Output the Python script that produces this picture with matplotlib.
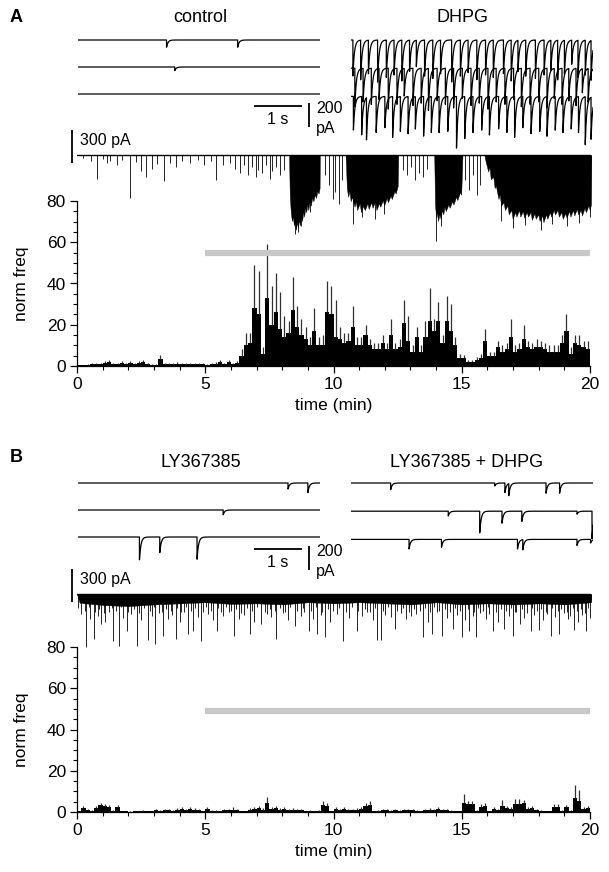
import matplotlib.pyplot as plt
from matplotlib.ticker import MultipleLocator
import numpy as np

W, H = 609, 872
plt.rcParams['font.family'] = ['Liberation Sans', 'DejaVu Sans']

# ---------------- histogram data (10 s bins, 0-20 min) ----------------
freq_a = [0.3, 0.3, 0.5, 0.8, 1.0, 0.8, 1.5, 2.0, 0.8, 0.8,
          1.5, 1.0, 1.5, 0.8, 1.5, 1.8, 0.8, 0.5, 0.5, 3.5,
          1.0, 0.8, 1.0, 1.2, 0.8, 1.0, 0.8, 0.8, 0.8, 1.0,
          0.5, 0.8, 1.2, 1.8, 1.0, 2.0, 1.0, 1.5, 5, 10,
          11, 28, 25, 6, 33, 20, 26, 18, 14, 16,
          27, 19, 15, 13, 10, 17, 10, 10, 26, 25,
          14, 13, 11, 12, 19, 10, 10, 15, 10, 8,
          8, 11, 8, 15, 8, 9, 21, 12, 7, 14,
          7, 14, 22, 17, 22, 11, 22, 17, 10, 4,
          4, 2, 2, 3, 4, 12, 5, 5, 9, 7,
          8, 14, 7, 8, 13, 9, 8, 9, 9, 8,
          7, 7, 7, 11, 17, 6, 11, 10, 9, 8]
err_a = [0.3, 0.3, 0.4, 0.5, 0.6, 0.5, 0.8, 1.0, 0.5, 0.5,
         0.8, 0.6, 0.8, 0.5, 0.8, 0.9, 0.5, 0.4, 0.4, 2.0,
         0.6, 0.5, 0.6, 0.6, 0.5, 0.6, 0.5, 0.5, 0.5, 0.6,
         0.4, 0.5, 0.6, 0.9, 0.6, 1.0, 0.6, 0.8, 3, 6,
         5, 21, 21, 3, 26, 19, 19, 18, 10, 6,
         16, 10, 8, 6, 4, 11, 4, 5, 15, 14,
         18, 6, 5, 4, 10, 4, 4, 5, 3, 3,
         3, 4, 3, 8, 3, 4, 11, 12, 3, 5,
         3, 8, 16, 6, 9, 4, 12, 13, 4, 2,
         1.5, 1, 1, 1.5, 2, 6, 2, 2, 3, 3,
         3, 9, 3, 3, 7, 3, 3, 4, 3, 3,
         3, 3, 3, 4, 8, 3, 4, 5, 3, 4]

freq_b = [0.3, 2.0, 1.0, 0.5, 2.0, 3.5, 3.0, 2.5, 0.5, 2.5,
          0.3, 0.3, 0.2, 0.3, 0.3, 0.5, 0.3, 0.3, 1.0, 0.5,
          1.0, 0.8, 0.5, 1.2, 1.5, 1.0, 1.5, 1.2, 1.0, 0.3,
          1.5, 0.5, 0.5, 0.3, 0.8, 1.0, 1.2, 1.0, 0.3, 0.3,
          1.2, 1.5, 1.8, 1.2, 4.5, 1.5, 1.8, 1.2, 1.5, 1.0,
          1.2, 1.0, 0.8, 0.3, 0.5, 0.3, 0.5, 3.5, 3.0, 0.3,
          1.5, 0.8, 1.5, 1.0, 1.0, 1.2, 1.5, 3.0, 3.5, 0.3,
          0.5, 1.0, 0.8, 0.5, 1.0, 0.5, 1.0, 0.8, 1.0, 0.5,
          0.3, 0.8, 1.2, 1.0, 1.5, 1.0, 0.8, 0.5, 0.3, 0.3,
          4.5, 4.0, 4.0, 0.5, 2.5, 3.0, 0.3, 1.5, 1.0, 3.0,
          2.0, 1.5, 4.0, 4.0, 4.5, 1.5, 2.0, 1.0, 0.5, 0.3,
          0.3, 2.5, 2.5, 0.5, 2.5, 0.5, 7.0, 5.5, 1.5, 2.0]
err_b = [0.3, 1.0, 0.6, 0.4, 1.0, 1.0, 1.0, 1.0, 0.4, 1.0,
         0.3, 0.3, 0.2, 0.3, 0.3, 0.4, 0.3, 0.3, 0.6, 0.4,
         0.6, 0.5, 0.4, 0.6, 0.8, 0.6, 0.8, 0.6, 0.6, 0.3,
         0.8, 0.4, 0.4, 0.3, 0.5, 0.6, 1.2, 0.6, 0.3, 0.3,
         0.6, 0.8, 1.0, 0.6, 3.0, 0.8, 1.0, 0.6, 0.8, 0.6,
         0.6, 0.6, 0.5, 0.3, 0.4, 0.3, 0.4, 2.0, 1.5, 0.3,
         0.8, 0.5, 0.8, 0.6, 0.6, 0.6, 1.0, 1.5, 2.0, 0.3,
         0.4, 0.6, 0.5, 0.4, 0.6, 0.4, 0.6, 0.5, 0.6, 0.4,
         0.3, 0.5, 0.6, 0.6, 0.8, 0.6, 0.5, 0.4, 0.3, 0.3,
         4.0, 1.5, 1.5, 0.4, 1.5, 1.5, 0.3, 0.8, 0.6, 3.0,
         1.0, 0.8, 2.5, 2.5, 1.5, 0.8, 1.0, 0.6, 0.4, 0.3,
         0.3, 1.5, 1.5, 0.4, 1.0, 0.4, 6.0, 5.0, 0.8, 1.0]

drug_bar_a = 55     # grey bar level, 5-20 min
drug_bar_b = 49

# ---------------- sweep events (time s, amplitude pA) ----------------
ctrl_t = [[1.83, 3.30], [2.00], []]
ctrl_a = [[60, 60], [30], []]

dhpg_t = [[0.04, 0.2, 0.36, 0.55, 0.73, 0.89, 1.05, 1.21, 1.35, 1.52, 1.69, 1.85, 2.08, 2.26, 2.42, 2.6,
           2.78, 2.94, 3.15, 3.31, 3.45, 3.61, 3.81, 3.99, 4.13, 4.27, 4.41, 4.56, 4.69, 4.84, 4.96],
          [0.08, 0.25, 0.42, 0.58, 0.77, 0.95, 1.1, 1.28, 1.45, 1.6, 1.78, 1.95, 2.12, 2.3, 2.48, 2.65,
           2.83, 3.0, 3.18, 3.36, 3.52, 3.7, 3.88, 4.05, 4.2, 4.36, 4.5, 4.65, 4.78, 4.9],
          [0.05, 0.22, 0.32, 0.52, 0.7, 0.86, 1.02, 1.18, 1.33, 1.5, 1.66, 1.82, 2.0, 2.18, 2.35, 2.52,
           2.7, 2.86, 3.05, 3.22, 3.38, 3.55, 3.72, 3.9, 4.05, 4.22, 4.38, 4.55, 4.7, 4.84, 4.96]]
dhpg_a = [[300, 330, 280, 350, 310, 290, 340, 260, 220, 300, 320, 280, 350, 300, 270, 330,
           290, 310, 280, 340, 260, 300, 320, 290, 250, 330, 280, 200, 310, 290, 330],
          [320, 280, 300, 260, 340, 300, 230, 310, 290, 350, 270, 300, 330, 250, 310, 290,
           340, 280, 300, 260, 320, 300, 280, 330, 250, 300, 270, 310, 200, 280],
          [280, 320, 350, 300, 260, 340, 290, 310, 270, 330, 300, 300, 290, 430, 350, 300,
           280, 320, 270, 300, 340, 260, 310, 290, 330, 280, 300, 270, 300, 400, 350]]

ly_t = [[4.34, 4.75], [3.00], [1.27, 1.69, 2.46]]
ly_a = [[50, 80], [40], [190, 130, 185]]

lyd_t = [[0.82, 2.97, 3.18, 3.26, 4.03, 4.31],
         [2.01, 2.66, 3.12, 3.53, 4.67, 4.98],
         [1.20, 1.87, 3.44, 3.55, 4.67, 4.95]]
lyd_a = [[55, 25, 80, 100, 85, 85],
         [40, 180, 100, 85, 25, 230],
         [80, 65, 80, 85, 50, 30]]

# ---------------- 20 min continuous traces (min, depth pA) ----------------
long_a_spk_t = [0.25, 0.55, 0.78, 1.0, 1.15, 1.3, 1.55, 1.75, 2.07, 2.3, 2.5, 2.7, 2.9, 3.1, 3.4,
                3.6, 3.85, 4.1, 4.4, 4.7, 4.95, 5.2, 5.4, 5.7, 5.95, 6.15, 6.35, 6.5, 6.65, 6.8,
                6.95, 7.05, 7.2, 7.35, 7.5, 7.6, 7.75, 7.9, 8.05,
                8.48, 8.6, 8.7, 9.05, 9.65, 9.8, 9.95, 10.05, 10.2, 10.3,
                10.75, 11.1, 11.6, 11.95, 12.7, 12.85, 13.0, 13.15, 13.3, 13.45, 13.6,
                13.95, 14.15, 15.1, 15.25, 15.4, 15.55, 15.7,
                16.5, 16.95, 17.45, 18.05, 18.5, 19.05, 19.55, 19.95]
long_a_spk_d = [30, 55, 215, 40, 70, 55, 90, 45, 390, 65, 145, 200, 125, 80, 235,
                70, 110, 55, 70, 45, 90, 55, 225, 90, 70, 125, 160, 90, 180, 110,
                200, 135, 160, 90, 215, 145, 110, 180, 135,
                720, 700, 650, 520, 180, 270, 400, 340, 450, 225,
                630, 560, 585, 540, 135, 180, 110, 225, 160, 200, 125,
                780, 650, 225, 315, 180, 360, 270,
                600, 660, 640, 680, 630, 650, 620, 560]
burst1_t = [8.25, 8.28, 8.32, 8.36, 8.40, 8.44, 8.48, 8.52, 8.56, 8.60, 8.64, 8.68, 8.72, 8.76, 8.80,
            8.84, 8.88, 8.92, 8.96, 9.00, 9.05, 9.10, 9.15, 9.20, 9.25, 9.30, 9.35, 9.40, 9.44, 9.45]
burst1_d = [0, 380, 520, 600, 560, 640, 600, 680, 610, 660, 590, 640, 560, 600, 520,
            560, 480, 520, 450, 500, 420, 460, 390, 420, 360, 390, 330, 350, 300, 0]
burst2_t = [10.45, 10.5, 10.55, 10.6, 10.65, 10.7, 10.8, 10.85, 10.9, 11.0, 11.05, 11.1, 11.2, 11.3,
            11.35, 11.45, 11.5, 11.6, 11.65, 11.75, 11.8, 11.9, 11.95, 12.05, 12.1, 12.2, 12.25,
            12.35, 12.4, 12.48, 12.5]
burst2_d = [0, 300, 380, 330, 420, 380, 470, 420, 500, 440, 520, 460, 500, 440,
            490, 430, 480, 420, 500, 440, 470, 410, 460, 390, 430, 370, 400,
            330, 350, 280, 0]
burst3_t = [13.9, 13.93, 13.97, 14.0, 14.05, 14.1, 14.15, 14.2, 14.25, 14.3, 14.35, 14.45, 14.5,
            14.6, 14.65, 14.75, 14.8, 14.9, 14.95, 15.0]
burst3_d = [0, 450, 560, 520, 600, 540, 580, 500, 540, 470, 510, 450, 480,
            420, 450, 380, 410, 340, 360, 0]
burst4_t = [15.85, 15.9, 16.0, 16.05, 16.1, 16.2, 16.25, 16.3, 16.4, 16.45, 16.5, 16.6, 16.65, 16.75,
            16.8, 16.9, 16.95, 17.05, 17.1, 17.2, 17.25, 17.35, 17.4, 17.5, 17.55, 17.65, 17.7,
            17.8, 17.85, 17.95, 18.0, 18.1, 18.15, 18.25, 18.3, 18.4, 18.45, 18.55, 18.6, 18.7,
            18.75, 18.85, 18.9, 19.0, 19.05, 19.15, 19.2, 19.3, 19.35, 19.45, 19.5, 19.6, 19.65,
            19.75, 19.8, 19.9, 19.95, 20.0, 20.02]
burst4_d = [0, 60, 150, 110, 220, 200, 300, 280, 400, 360, 460, 430, 500, 460,
            540, 500, 580, 520, 560, 500, 560, 510, 570, 520, 560, 520, 590,
            530, 580, 540, 600, 550, 610, 540, 580, 520, 560, 500, 540, 500,
            560, 520, 580, 530, 570, 510, 560, 500, 550, 490, 540, 500, 550,
            480, 520, 460, 500, 450, 0]

long_b_spk_t = [0.34, 0.65, 0.92, 1.41, 1.64, 1.94, 2.32, 2.75, 3.05, 3.35, 3.84, 4.3, 4.53, 4.83,
                5.44, 6.12, 6.73, 7.16, 7.75, 8.48, 9.01, 9.35, 9.65, 10.35, 10.88, 11.67, 11.82,
                12.36, 13.47, 13.8, 14.21, 14.64, 14.99, 15.25, 15.52, 16.19, 16.61, 16.95, 17.22,
                17.65, 17.98, 18.44, 18.77, 19.35, 19.81,
                0.15, 0.5, 0.8, 1.1, 1.25, 1.8, 2.1, 2.5, 2.9, 3.2, 3.55, 3.7, 4.0, 4.15, 4.7,
                5.1, 5.3, 5.7, 5.9, 6.3, 6.5, 6.9, 7.4, 7.55, 8.0, 8.2, 8.7, 8.85, 9.2, 9.5, 9.85,
                10.1, 10.6, 11.1, 11.3, 11.5, 12.0, 12.2, 12.6, 12.8, 13.0, 13.2, 13.65, 14.0,
                14.4, 14.8, 15.1, 15.4, 15.7, 15.9, 16.05, 16.4, 16.8, 17.1, 17.4, 17.8, 18.15,
                18.3, 18.6, 18.95, 19.1, 19.2, 19.5, 19.65, 19.95]
long_b_spk_d = [480, 405, 270, 430, 470, 340, 470, 420, 450, 380, 405, 360, 340, 430,
                340, 380, 360, 270, 405, 290, 340, 360, 395, 430, 340, 415, 415,
                315, 395, 360, 380, 315, 395, 340, 395, 340, 315, 380, 270,
                340, 325, 380, 360, 325, 340,
                180, 230, 200, 250, 160, 220, 180, 240, 200, 170, 230, 190, 250, 160, 210,
                180, 240, 200, 160, 230, 190, 250, 180, 210, 170, 240, 200, 160, 230, 190, 250,
                180, 220, 200, 160, 240, 190, 210, 170, 230, 200, 180, 250, 160,
                220, 190, 240, 200, 170, 230, 180, 250, 200, 160, 220, 190, 240,
                180, 210, 170, 230, 200, 250, 190, 220]
# short events that roughen the dense band under the baseline
long_b_short = [(0.05, 130), (0.3, 150), (0.45, 120), (0.7, 160), (0.85, 140), (1.05, 170), (1.35, 130),
                (1.5, 150), (1.7, 120), (2.0, 160), (2.2, 140), (2.4, 170), (2.6, 130), (2.85, 150),
                (3.0, 120), (3.3, 160), (3.45, 140), (3.65, 150), (3.9, 130), (4.05, 160), (4.25, 120),
                (4.45, 150), (4.6, 130), (4.9, 160), (5.0, 120), (5.2, 150), (5.5, 130), (5.6, 160),
                (5.8, 120), (6.0, 150), (6.2, 140), (6.4, 170), (6.6, 130), (6.8, 150), (7.0, 120),
                (7.3, 160), (7.5, 140), (7.7, 150), (7.9, 130), (8.1, 160), (8.3, 120), (8.55, 150),
                (8.8, 130), (9.1, 150), (9.3, 120), (9.55, 160), (9.75, 140), (9.95, 150), (10.2, 130),
                (10.45, 160), (10.7, 120), (10.95, 150), (11.2, 140), (11.4, 160), (11.6, 130),
                (11.9, 150), (12.1, 120), (12.45, 150), (12.7, 130), (12.9, 160), (13.1, 140),
                (13.35, 150), (13.55, 130), (13.75, 160), (13.9, 120), (14.1, 150), (14.3, 140),
                (14.5, 160), (14.7, 130), (14.9, 150), (15.2, 140), (15.45, 160), (15.6, 130),
                (15.8, 150), (16.0, 120), (16.3, 160), (16.5, 140), (16.7, 150), (16.9, 130),
                (17.05, 160), (17.3, 140), (17.5, 170), (17.7, 130), (17.9, 150), (18.05, 140),
                (18.25, 160), (18.5, 130), (18.7, 150), (18.85, 140), (19.05, 160), (19.3, 130),
                (19.45, 150), (19.6, 140), (19.75, 170), (19.9, 130)]
long_b_band_t = [0, 0.1, 1, 2, 3, 4, 5, 6, 7, 8, 9, 10, 11, 12, 13, 14, 15, 16, 17, 18, 19, 20, 20.05]
long_b_band_d = [0, 80, 100, 110, 95, 85, 75, 90, 85, 95, 75, 85, 75, 85, 95, 75, 95, 85, 95, 85, 95, 75, 0]


def px_axes(fig, x0, y0, x1, y1):
    ax = fig.add_axes([x0 / W, 1 - y1 / H, (x1 - x0) / W, (y1 - y0) / H])
    ax.axis('off')
    return ax


def sweep(t, ev_t, ev_a, tau):
    y = np.zeros_like(t)
    for t0, a in zip(ev_t, ev_a):
        m = t >= t0
        y[m] -= a * np.exp(-(t[m] - t0) / tau)
    return y


def draw_sweeps(ax, ev_t, ev_a, offsets, tau):
    t = np.arange(0, 5.0005, 0.001)
    for et, ea, off in zip(ev_t, ev_a, offsets):
        ax.plot(t, sweep(t, et, ea, tau) + off, color='black', lw=0.9)
    ax.set_xlim(0, 5)
    ax.set_ylim(-1000, 100)


def sweep_group(fig, top, left_t, left_a, right_t, right_a, tau_r):
    # sweep axes: 48.4 px per s, 0.12 px per pA
    axl = px_axes(fig, 78, top, 320, top + 132)
    draw_sweeps(axl, left_t, left_a, [0, -225, -450], 0.03)
    axr = px_axes(fig, 351, top, 593, top + 132)
    draw_sweeps(axr, right_t, right_a, [0, -235, -470], tau_r)
    # scale bars
    kw = dict(color='black', lw=1.3, clip_on=False, solid_capstyle='butt')
    axl.plot([3.64, 4.63], [-550, -550], **kw)
    axl.plot([4.77, 4.77], [-525, -725], **kw)
    axl.text(4.13, -665, '1 s', ha='center', va='center', fontsize=11.5)
    axl.text(4.92, -570, '200', ha='left', va='center', fontsize=11.5)
    axl.text(4.92, -740, 'pA', ha='left', va='center', fontsize=11.5)


def long_trace(fig, base, spk_t, spk_d, fills):
    # 25.7 px per min, 0.11 px per pA
    ax = px_axes(fig, 77, base - 30, 591, base + 95)
    ax.set_xlim(0, 20)
    ax.set_ylim(-95 / 0.11, 30 / 0.11)
    ax.plot([0, 20], [0, 0], color='black', lw=1.0)
    for ft, fd in fills:
        ax.fill_between(ft, 0, -np.array(fd), color='black', lw=0.3)
    ax.vlines(spk_t, 0, -np.array(spk_d), color='black', lw=0.6)
    ax.plot([-0.195, -0.195], [227, -73], color='black', lw=1.3, clip_on=False,
            solid_capstyle='butt')
    ax.text(0.12, 136, '300 pA', ha='left', va='center', fontsize=11.5)
    return ax


def histogram(fig, y0, freq, err, bar_level):
    ax = fig.add_axes([77 / W, 1 - (y0 + 165) / H, 513 / W, 165 / H])
    ax.patch.set_visible(False)
    bw = 1 / 6
    edges = np.arange(len(freq)) * bw
    ax.bar(edges, freq, width=bw, align='edge', color='black', lw=0)
    ax.vlines(edges + bw / 2, freq, np.array(freq) + np.array(err), color='#303030', lw=0.9)
    ax.hlines(bar_level, 5, 20, color='#c8c8c8', lw=4.5)
    ax.set_xlim(0, 20)
    ax.set_ylim(0, 80)
    for s in ['top', 'right']:
        ax.spines[s].set_visible(False)
    for s in ['left', 'bottom']:
        ax.spines[s].set_linewidth(0.9)
    ax.xaxis.set_major_locator(MultipleLocator(5))
    ax.xaxis.set_minor_locator(MultipleLocator(1))
    ax.yaxis.set_major_locator(MultipleLocator(20))
    ax.yaxis.set_minor_locator(MultipleLocator(5))
    ax.tick_params(which='major', direction='out', length=5, width=0.9, labelsize=12.5, pad=3)
    ax.tick_params(which='minor', direction='out', length=3, width=0.8)
    ax.set_ylabel('norm freq', fontsize=12.5, labelpad=13)
    ax.set_xlabel('time (min)', fontsize=12.5, labelpad=4)
    return ax


fig = plt.figure(figsize=(W / 100, H / 100), dpi=100)


def ftext(x, y, s, **kw):
    fig.text(x / W, 1 - y / H, s, ha='center', va='center', **kw)


# panel A
histogram(fig, 201, freq_a, err_a, drug_bar_a)
sweep_group(fig, 28, ctrl_t, ctrl_a, dhpg_t, dhpg_a, 0.03)
long_trace(fig, 155, long_a_spk_t, long_a_spk_d,
           [(burst1_t, burst1_d), (burst2_t, burst2_d), (burst3_t, burst3_d), (burst4_t, burst4_d)])
ftext(16, 18, 'A', fontsize=13, fontweight='bold')
ftext(200, 18, 'control', fontsize=13)
ftext(463, 18, 'DHPG', fontsize=13)

# panel B
histogram(fig, 647, freq_b, err_b, drug_bar_b)
sweep_group(fig, 471, ly_t, ly_a, lyd_t, lyd_a, 0.03)
axb = long_trace(fig, 594, long_b_spk_t, long_b_spk_d, [(long_b_band_t, long_b_band_d)])
short_t, short_d = zip(*long_b_short)
axb.vlines(short_t, 0, -np.array(short_d), color='black', lw=0.6)
ftext(16, 457, 'B', fontsize=13, fontweight='bold')
ftext(201, 462, 'LY367385', fontsize=13)
ftext(467, 462, 'LY367385 + DHPG', fontsize=13)

fig.savefig('out.png', dpi=100)
